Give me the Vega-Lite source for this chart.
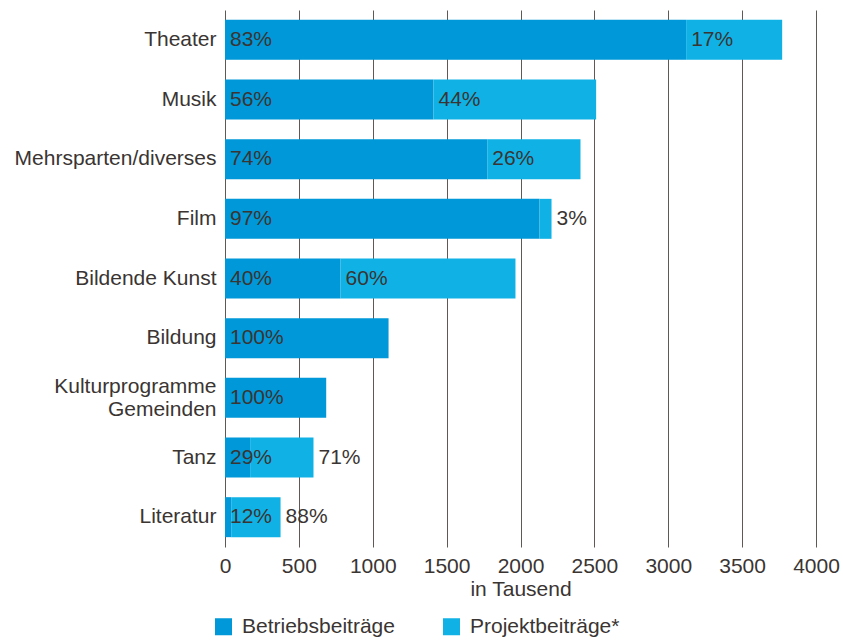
{
  "$schema": "https://vega.github.io/schema/vega-lite/v6.json",
  "autosize": {"type": "none"},
  "padding": {"left": 225, "top": 10, "right": 27, "bottom": 93},
  "width": 591,
  "height": 537,
  "background": "white",
  "config": {
    "font": "Liberation Sans",
    "view": {"stroke": null},
    "axis": {"labelColor": "#3a3532", "titleColor": "#3a3532", "labelFontSize": 21, "titleFontSize": 21, "titleFontWeight": "normal"},
    "legend": {"labelColor": "#3a3532", "labelFontSize": 21}
  },
  "data": {
    "values": [
      {"category": "Theater", "type": "Betriebsbeiträge", "value": 3121, "label": "83%", "outside": false},
      {"category": "Theater", "type": "Projektbeiträge*", "value": 650, "label": "17%", "outside": false},
      {"category": "Musik", "type": "Betriebsbeiträge", "value": 1411, "label": "56%", "outside": false},
      {"category": "Musik", "type": "Projektbeiträge*", "value": 1101, "label": "44%", "outside": false},
      {"category": "Mehrsparten/diverses", "type": "Betriebsbeiträge", "value": 1775, "label": "74%", "outside": false},
      {"category": "Mehrsparten/diverses", "type": "Projektbeiträge*", "value": 631, "label": "26%", "outside": false},
      {"category": "Film", "type": "Betriebsbeiträge", "value": 2129, "label": "97%", "outside": false},
      {"category": "Film", "type": "Projektbeiträge*", "value": 81, "label": "3%", "outside": true},
      {"category": "Bildende Kunst", "type": "Betriebsbeiträge", "value": 782, "label": "40%", "outside": false},
      {"category": "Bildende Kunst", "type": "Projektbeiträge*", "value": 1184, "label": "60%", "outside": false},
      {"category": "Bildung", "type": "Betriebsbeiträge", "value": 1107, "label": "100%", "outside": false},
      {"category": "Kulturprogramme Gemeinden", "type": "Betriebsbeiträge", "value": 685, "label": "100%", "outside": false},
      {"category": "Tanz", "type": "Betriebsbeiträge", "value": 170, "label": "29%", "outside": false},
      {"category": "Tanz", "type": "Projektbeiträge*", "value": 429, "label": "71%", "outside": true},
      {"category": "Literatur", "type": "Betriebsbeiträge", "value": 42, "label": "12%", "outside": false},
      {"category": "Literatur", "type": "Projektbeiträge*", "value": 334, "label": "88%", "outside": true}
    ]
  },
  "transform": [
    {"stack": "value", "groupby": ["category"], "sort": [{"field": "type", "order": "ascending"}], "as": ["x0", "x1"]}
  ],
  "encoding": {
    "y": {
      "field": "category",
      "type": "nominal",
      "sort": ["Theater", "Musik", "Mehrsparten/diverses", "Film", "Bildende Kunst", "Bildung", "Kulturprogramme Gemeinden", "Tanz", "Literatur"],
      "scale": {"paddingInner": 0.33, "paddingOuter": 0.165},
      "axis": {
        "title": null,
        "domain": false,
        "ticks": false,
        "labelPadding": 9,
        "labelLimit": 300,
        "labelLineHeight": 23,
        "labelOffset": {"condition": {"test": "datum.value == 'Kulturprogramme Gemeinden'", "value": -11}, "value": 0},
        "labelExpr": "datum.label == 'Kulturprogramme Gemeinden' ? ['Kulturprogramme', 'Gemeinden'] : datum.label"
      }
    }
  },
  "layer": [
    {
      "mark": {"type": "bar"},
      "encoding": {
        "x": {
          "field": "x0",
          "type": "quantitative",
          "scale": {"domain": [0, 4000], "nice": false},
          "axis": {
            "title": "in Tausend",
            "values": [0, 500, 1000, 1500, 2000, 2500, 3000, 3500, 4000],
            "format": "d",
            "grid": true,
            "gridColor": "#5e5954",
            "gridWidth": 1,
            "gridOpacity": 1,
            "domain": false,
            "ticks": false,
            "labelPadding": 8,
            "titlePadding": 2,
            "labelFlush": false
          }
        },
        "x2": {"field": "x1"},
        "color": {
          "field": "type",
          "type": "nominal",
          "scale": {"domain": ["Betriebsbeiträge", "Projektbeiträge*"], "range": ["#0098d8", "#10b2e6"]},
          "legend": {
            "title": null,
            "orient": "none",
            "legendX": -12,
            "legendY": 606,
            "direction": "horizontal",
            "symbolType": "square",
            "symbolSize": 289,
            "symbolStrokeWidth": 0,
            "symbolOpacity": 1,
            "labelOffset": 8,
            "columnPadding": 46,
            "padding": 0
          }
        }
      }
    },
    {
      "transform": [{"filter": "datum.outside == false"}],
      "mark": {"type": "text", "align": "left", "baseline": "middle", "dx": 5, "fontSize": 21, "color": "#3a3532"},
      "encoding": {
        "x": {"field": "x0", "type": "quantitative"},
        "text": {"field": "label"}
      }
    },
    {
      "transform": [{"filter": "datum.outside == true"}],
      "mark": {"type": "text", "align": "left", "baseline": "middle", "dx": 5, "fontSize": 21, "color": "#3a3532"},
      "encoding": {
        "x": {"field": "x1", "type": "quantitative"},
        "text": {"field": "label"}
      }
    }
  ]
}
